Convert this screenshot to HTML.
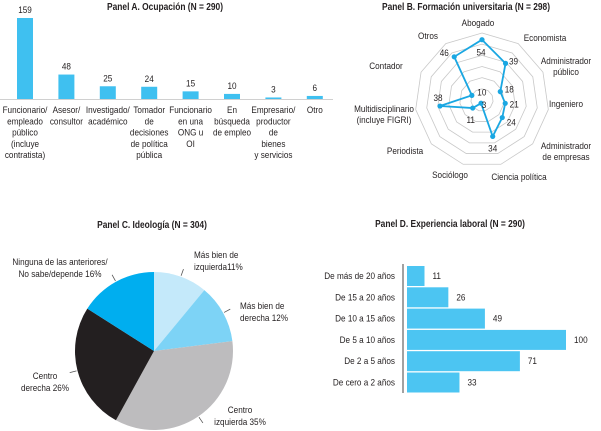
<!DOCTYPE html>
<html><head><meta charset="utf-8">
<style>
body{margin:0;background:#fff;}
svg{display:block;font-family:"Liberation Sans",sans-serif;}
.t{font-weight:bold;font-size:10px;fill:#231f20;}
.l{font-size:9.5px;fill:#231f20;}
</style></head><body>
<svg id="s" width="601" height="431" viewBox="0 0 601 431">
<text class="t" transform="translate(165,10) scale(0.84,1)" text-anchor="middle">Panel A. Ocupación (N = 290)</text>
<text class="t" transform="translate(466,10) scale(0.84,1)" text-anchor="middle">Panel B. Formación universitaria (N = 298)</text>
<text class="t" transform="translate(152,228) scale(0.84,1)" text-anchor="middle">Panel C. Ideología (N = 304)</text>
<text class="t" transform="translate(450,227) scale(0.84,1)" text-anchor="middle">Panel D. Experiencia laboral (N = 290)</text>
<g id="gA"></g>
<g id="gB"></g>
<g id="gC"></g>
<g id="gD"></g>
</svg>
<script>
const occCategories=[["Funcionario/","empleado","público","(incluye","contratista)"],["Asesor/","consultor"],["Investigado/","académico"],["Tomador","de","decisiones","de política","pública"],["Funcionario","en una","ONG u","OI"],["En","búsqueda","de empleo"],["Empresario/","productor","de","bienes","y servicios"],["Otro"]];
const occValues=[159,48,25,24,15,10,3,6];
const radarCategories=[["Abogado"],["Economista"],["Administrador","público"],["Ingeniero"],["Administrador","de empresas"],["Ciencia política"],["Sociólogo"],["Periodista"],["Multidisciplinario","(incluye FIGRI)"],["Contador"],["Otros"]];
const radarValues=[54,39,18,21,24,34,3,11,38,10,46];
const radarMax=60;
const pieLabels=[["Más bien de","izquierda11%"],["Más bien de","derecha 12%"],["Centro","izquierda 35%"],["Centro","derecha 26%"],["Ninguna de las anteriores/","No sabe/depende 16%"]];
const pieValues=[11,12,35,26,16];
const expCategories=["De más de 20 años","De 15 a 20 años","De 10 a 15 años","De 5 a 10 años","De 2 a 5 años","De cero a 2 años"];
const expValues=[11,26,49,100,71,33];

const NS="http://www.w3.org/2000/svg";
const SX=0.86;
function mk(p,tag,a){const e=document.createElementNS(NS,tag);for(const k in a)e.setAttribute(k,a[k]);p.appendChild(e);return e;}
function txt(p,x,y,s,anchor,cls){const e=mk(p,"text",{x:0,y:0,transform:`translate(${x},${y}) scale(${SX},1)`,"text-anchor":anchor||"middle",class:cls||"l"});e.textContent=s;return e;}

// Panel A
const gA=document.getElementById("gA");
const aBase=99, aScale=81/159, aX0=25, aPitch=41.4, aW=16;
const ax=i=>aX0+i*aPitch;
const ay=v=>aBase-v*aScale;
let bl=mk(gA,"line",{x1:0,x2:333,y1:aBase+0.5,y2:aBase+0.5,stroke:"#d0d0d0","stroke-width":1});


occValues.forEach((v,i)=>{
  const r=mk(gA,"rect",{x:ax(i)-aW/2,y:ay(v),width:aW,height:aBase-ay(v),fill:"#3fc0f0"});
  
  
  const t=txt(gA,ax(i),ay(v)-5,String(v));
  
  
  occCategories[i].forEach((ln,j)=>{
    const c=txt(gA,ax(i),113+j*11.3,ln);
    
    
  });
});

// Panel B radar
const gB=document.getElementById("gB");
const cx=482, cy=100, R=67, n=radarValues.length;
const ang=i=>-Math.PI/2+i*2*Math.PI/n;
const rp=(i,v)=>[cx+Math.cos(ang(i))*v/radarMax*R, cy+Math.sin(ang(i))*v/radarMax*R];
for(let k=1;k<=6;k++){
  const pts=[];for(let i=0;i<n;i++)pts.push(rp(i,k*10).join(","));
  const g=mk(gB,"polygon",{points:pts.join(" "),fill:"none",stroke:"#c8c8c8","stroke-width":0.8});
  
  
}
const lp=radarValues.map((v,i)=>rp(i,v).join(","));
const poly=mk(gB,"polygon",{points:lp.join(" "),fill:"none",stroke:"#1aa7e2","stroke-width":1.8});


const vOff=[[-1,13],[8,-2],[9,-2],[9,1],[9,5],[0,12],[3,2],[-2,12],[-2,-8],[10,-3],[-10,-4]];
radarValues.forEach((v,i)=>{
  const [x,y]=rp(i,v);
  const c=mk(gB,"circle",{cx:x,cy:y,r:2.6,fill:"#1aa7e2"});
  
  
  const t=txt(gB,x+vOff[i][0],y+vOff[i][1]+3,String(v));
  
  
});
const labPos=[[478,26,"middle"],[545,41,"middle"],[566,64,"middle"],[566,107,"middle"],[566,149,"middle"],[519,180,"middle"],[450,178,"middle"],[405,154,"middle"],[384,112,"middle"],[386,69,"middle"],[428,39,"middle"]];
radarCategories.forEach((ls,i)=>{
  ls.forEach((ln,j)=>{
    const t=txt(gB,labPos[i][0],labPos[i][1]+j*11,ln,labPos[i][2]);
    
    
  });
});

// Panel C pie
const gC=document.getElementById("gC");
const pcx=154, pcy=351, pr=79;
const pieColors=["#c4e9fa","#7dd3f6","#bdbcbe","#231f20","#00aeef"];
const total=pieValues.reduce((a,b)=>a+b,0);
let acc=0;
const pPt=(a,r)=>[pcx+Math.sin(a)*r, pcy-Math.cos(a)*r];
const pieLab=[[194,258,"start"],[240,309,"start"],[240,413,"middle"],[45,379,"middle"],[60,265,"middle"]];
pieValues.forEach((v,i)=>{
  const a0=acc/total*2*Math.PI; acc+=v; const a1=acc/total*2*Math.PI;
  const [x0,y0]=pPt(a0,pr),[x1,y1]=pPt(a1,pr);
  const p=mk(gC,"path",{d:`M${pcx},${pcy}L${x0},${y0}A${pr},${pr} 0 ${a1-a0>Math.PI?1:0} 1 ${x1},${y1}Z`,fill:pieColors[i]});
  
  
  const am=(a0+a1)/2;
  const [lx0,ly0]=pPt(am,pr+1),[lx1,ly1]=pPt(am,pr+8);
  const ld=mk(gC,"line",{x1:lx0,y1:ly0,x2:lx1,y2:ly1,stroke:"#555","stroke-width":0.8});
  
  
  pieLabels[i].forEach((ln,j)=>{
    const t=txt(gC,pieLab[i][0],pieLab[i][1]+j*12,ln,pieLab[i][2]);
    
    
  });
});

// Panel D
const gD=document.getElementById("gD");
const dX0=407, dScale=159/100, dY0=266, dPitch=21.3, dH=20;
const dx=v=>dX0+v*dScale;
const dy=i=>dY0+i*dPitch;
const axl=mk(gD,"line",{x1:403,x2:403,y1:264,y2:393,stroke:"#8a8a8a","stroke-width":1.6});


expValues.forEach((v,i)=>{
  const r=mk(gD,"rect",{x:dX0,y:dy(i),width:dx(v)-dX0,height:dH,fill:"#4cc5f2"});
  
  
  const t=txt(gD,dx(v)+8,dy(i)+dH/2+3,String(v),"start");
  
  
  const c=txt(gD,395,dy(i)+dH/2+3,expCategories[i],"end");
  
  
});
</script>
</body></html>
